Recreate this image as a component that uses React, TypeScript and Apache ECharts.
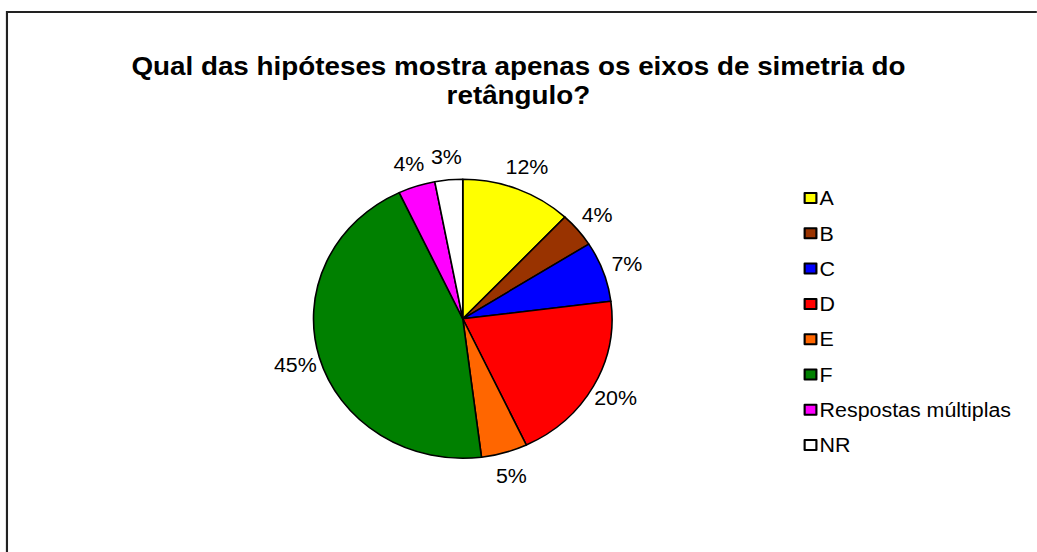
import React, { useEffect, useRef } from "react";
import * as echarts from "echarts";

const titleText = "Qual das hipóteses mostra apenas os eixos de simetria do\nretângulo?";
const categories = ["A", "B", "C", "D", "E", "F", "Respostas múltiplas", "NR"];
const values = [12, 4, 7, 20, 5, 45, 4, 3];
const colors = ["#FFFF00", "#993300", "#0000FF", "#FF0000", "#FF6600", "#008000", "#FF00FF", "#FFFFFF"];

const FONT = "'Liberation Sans', Arial, sans-serif";
const STRETCH = 1.07;
const W = 1037 / STRETCH;

export default function App() {
  const ref = useRef<HTMLDivElement>(null);
  useEffect(() => {
    if (!ref.current) return;
    const chart = echarts.init(ref.current, undefined, { renderer: "svg" });
    const center = [432.5, 318.8];
    chart.setOption({
      animation: false,
      backgroundColor: "#ffffff",
      title: {
        text: titleText,
        left: "center",
        top: 47,
        textStyle: {
          fontFamily: FONT,
          fontSize: 26,
          fontWeight: "bold",
          color: "#000",
          lineHeight: 29,
          align: "center",
        },
      },
      graphic: [
        {
          type: "rect",
          shape: { x: 6.5, y: 12, width: 1100, height: 600 },
          style: { fill: "none", stroke: "#222", lineWidth: 2 },
          silent: true,
        },
      ],
      legend: {
        orient: "vertical",
        left: 751,
        top: 188,
        padding: 0,
        itemWidth: 11,
        itemHeight: 10,
        itemGap: 15.3,
        icon: "rect",
        textStyle: { fontFamily: FONT, fontSize: 20, color: "#000", lineHeight: 20, padding: [0, 0, 0, -2] },
        data: categories,
      },
      series: [
        {
          type: "pie",
          center,
          radius: 139.5,
          startAngle: 90,
          clockwise: true,
          data: categories.map((c, i) => ({ name: c, value: values[i], itemStyle: { color: colors[i] } })),
          itemStyle: { borderColor: "#000", borderWidth: 1.5 },
          label: { show: false },
          labelLine: { show: false },
          emphasis: { disabled: true },
        },
        {
          type: "pie",
          center,
          radius: [140, 180],
          startAngle: 90,
          clockwise: true,
          silent: true,
          legendHoverLink: false,
          data: categories.map((c, i) => ({ name: c, value: values[i] })),
          itemStyle: { color: "rgba(0,0,0,0)", borderWidth: 0 },
          label: {
            show: true,
            position: "inside",
            formatter: "{c}%",
            fontFamily: FONT,
            fontSize: 20,
            color: "#000",
            textBorderWidth: 0,
          },
          labelLine: { show: false },
          emphasis: { disabled: true },
        },
      ],
    });
    return () => chart.dispose();
  }, []);
  return (
    <div
      ref={ref}
      style={{
        position: "absolute",
        left: 0,
        top: 0,
        width: W,
        height: 552,
        transform: `scaleX(${STRETCH})`,
        transformOrigin: "0 0",
      }}
    />
  );
}
